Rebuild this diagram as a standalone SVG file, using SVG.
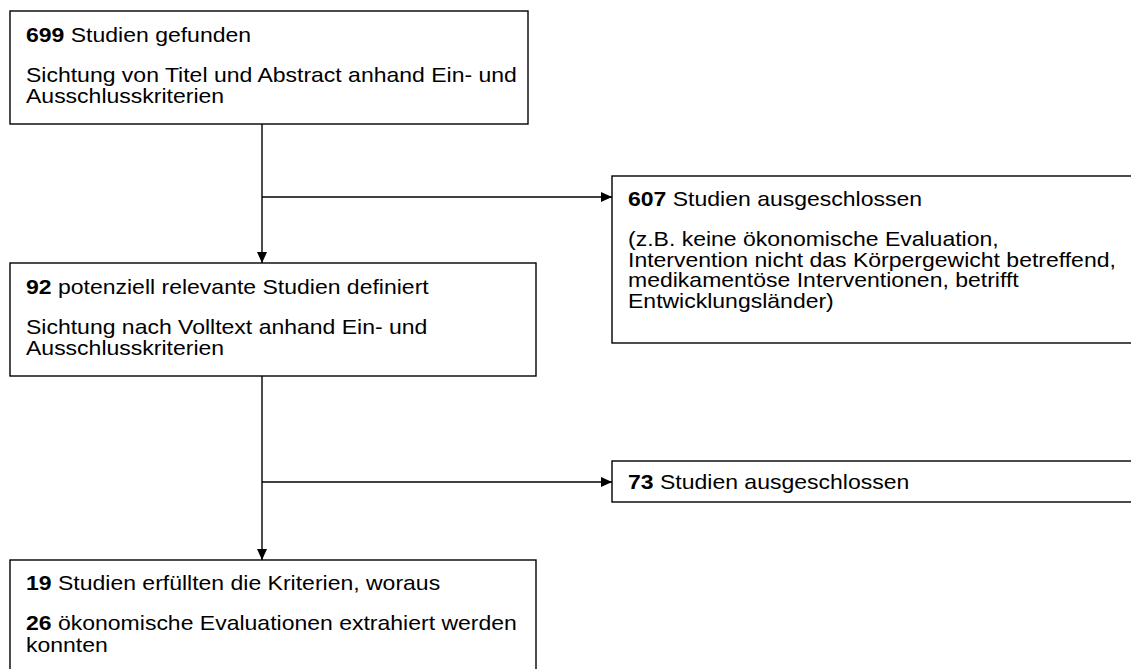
<svg xmlns="http://www.w3.org/2000/svg" width="1131" height="669" viewBox="0 0 1131 669">
<defs>
<style>
.box{fill:#fff;stroke:#000;stroke-width:1.4}
.t{font-family:"Liberation Sans",Arial,sans-serif;font-size:20px;fill:#000}
.b{font-weight:bold}
.c{fill:none;stroke:#000;stroke-width:1.4}
</style>
<marker id="ah" viewBox="0 0 11 10" refX="11" refY="5" markerWidth="11" markerHeight="10" markerUnits="userSpaceOnUse" orient="auto">
<path d="M0,0 L11,5 L0,10 Z" fill="#000"/>
</marker>
</defs>
<rect width="1131" height="669" fill="#fff"/>
<g id="connectors">
<line class="c" x1="262" y1="124" x2="262" y2="263" marker-end="url(#ah)"/>
<line class="c" x1="262" y1="197" x2="612" y2="197" marker-end="url(#ah)"/>
<line class="c" x1="262" y1="376" x2="262" y2="560" marker-end="url(#ah)"/>
<line class="c" x1="262" y1="482" x2="612" y2="482" marker-end="url(#ah)"/>
</g>
<g id="n1">
<rect class="box" x="10" y="11" width="518" height="113"/>
<text class="t" transform="translate(26,42) scale(1.15,1)"><tspan class="b">699</tspan> Studien gefunden</text>
<text class="t" transform="translate(26,82) scale(1.15,1)">Sichtung von Titel und Abstract anhand Ein- und</text>
<text class="t" transform="translate(26,102.5) scale(1.15,1)">Ausschlusskriterien</text>
</g>
<g id="n2">
<rect class="box" x="10" y="263" width="526" height="113"/>
<text class="t" transform="translate(26,294) scale(1.15,1)"><tspan class="b">92</tspan> potenziell relevante Studien definiert</text>
<text class="t" transform="translate(26,334) scale(1.15,1)">Sichtung nach Volltext anhand Ein- und</text>
<text class="t" transform="translate(26,354.5) scale(1.15,1)">Ausschlusskriterien</text>
</g>
<g id="n3">
<rect class="box" x="612" y="176" width="522" height="167"/>
<text class="t" transform="translate(628,206) scale(1.15,1)"><tspan class="b">607</tspan> Studien ausgeschlossen</text>
<text class="t" transform="translate(628,246) scale(1.15,1)">(z.B. keine ökonomische Evaluation,</text>
<text class="t" transform="translate(628,266.5) scale(1.15,1)">Intervention nicht das Körpergewicht betreffend,</text>
<text class="t" transform="translate(628,287) scale(1.15,1)">medikamentöse Interventionen, betrifft</text>
<text class="t" transform="translate(628,307.5) scale(1.15,1)">Entwicklungsländer)</text>
</g>
<g id="n4">
<rect class="box" x="612" y="461" width="522" height="41"/>
<text class="t" transform="translate(628,489) scale(1.15,1)"><tspan class="b">73</tspan> Studien ausgeschlossen</text>
</g>
<g id="n5">
<rect class="box" x="10" y="560" width="526" height="113"/>
<text class="t" transform="translate(26,590) scale(1.15,1)"><tspan class="b">19</tspan> Studien erfüllten die Kriterien, woraus</text>
<text class="t" transform="translate(26,630) scale(1.15,1)"><tspan class="b">26</tspan> ökonomische Evaluationen extrahiert werden</text>
<text class="t" transform="translate(26,652) scale(1.15,1)">konnten</text>
</g>
</svg>
